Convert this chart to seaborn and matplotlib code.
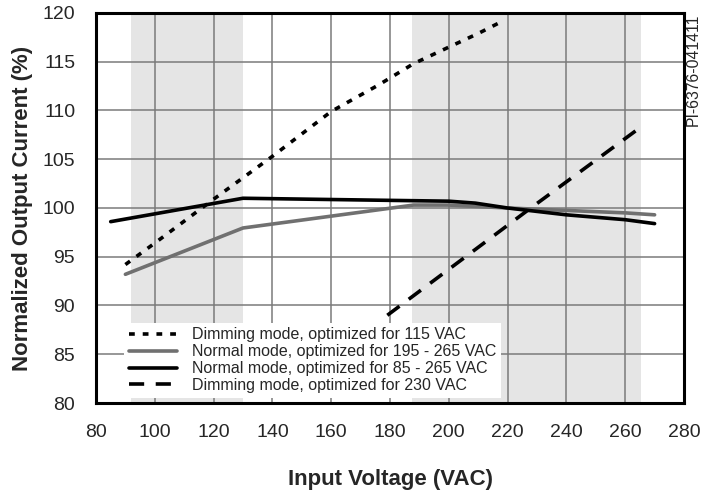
import matplotlib
matplotlib.use("Agg")
import matplotlib.pyplot as plt
import seaborn as sns
import pandas as pd

# ---- data ----
dim115_x = [90, 100, 120, 140, 160, 176, 188, 200, 210, 218.5]
dim115_y = [94.2, 96.4, 100.9, 105.3, 109.9, 112.6, 114.8, 116.5, 117.9, 119.2]

norm195_x = [90, 130, 188, 200, 220, 240, 260, 270]
norm195_y = [93.2, 97.95, 100.3, 100.3, 100.0, 99.75, 99.5, 99.3]

norm85_x = [85, 130, 176, 200, 209, 220, 240, 260, 270]
norm85_y = [98.6, 101.0, 100.8, 100.7, 100.5, 100.0, 99.3, 98.8, 98.4]

dim230_x = [176, 227, 263.5]
dim230_y = [88.3, 99.8, 107.9]

labels = ["Dimming mode, optimized for 115 VAC",
          "Normal mode, optimized for 195 - 265 VAC",
          "Normal mode, optimized for 85 - 265 VAC",
          "Dimming mode, optimized for 230 VAC"]

shade_spans = [(92, 130), (187.5, 265.5)]
x_ticks = [80, 100, 120, 140, 160, 180, 200, 220, 240, 260, 280]
y_ticks = [80, 85, 90, 95, 100, 105, 110, 115, 120]

sns.set_style("white")
plt.rcParams['font.family'] = ['Liberation Sans', 'DejaVu Sans']

fig = plt.figure(figsize=(7.05, 4.94), dpi=100)
ax = fig.add_axes([96/705, 1-403/494, (684-96)/705, (403-13)/494])

for a, b in shade_spans:
    ax.axvspan(a, b, color="#e5e5e5", zorder=0, lw=0)

series = [
    (dim115_x, dim115_y, labels[0], "black", (0, (1.6, 2.2)), False),
    (norm195_x, norm195_y, labels[1], "#707070", "-", False),
    (norm85_x, norm85_y, labels[2], "black", "-", False),
    (dim230_x, dim230_y, labels[3], "black", (0, (4.2, 3.2)), True),
]
for xs, ys, lab, col, ls, rev in series:
    df = pd.DataFrame({"x": xs, "y": ys})
    if rev:
        df = df.iloc[::-1].reset_index(drop=True)
    sns.lineplot(data=df, x="x", y="y", ax=ax, color=col, linestyle=ls,
                 linewidth=2.6, label=lab, zorder=3, sort=False)

ax.set_xlim(80, 280)
ax.set_ylim(80, 120)
ax.set_xticks(x_ticks)
ax.set_yticks(y_ticks)
ax.set_xticklabels([str(t) for t in x_ticks])
ax.set_yticklabels([str(t) for t in y_ticks])
ax.grid(True, color="#7a7a7a", linewidth=1.1, zorder=1)
ax.set_axisbelow(True)
ax.tick_params(length=0, labelsize=14)
ax.tick_params(axis='x', pad=15)
ax.tick_params(axis='y', pad=15)
for s in ax.spines.values():
    s.set_linewidth(2.2)
    s.set_color("black")
    s.set_zorder(4)

ax.set_xlabel("Input Voltage (VAC)", fontsize=16, fontweight="bold", labelpad=20)
ax.set_ylabel("Normalized Output Current (%)", fontsize=16, fontweight="bold", labelpad=7)

leg = ax.legend(loc="lower left", bbox_to_anchor=(0.043, 0.005), frameon=True,
                fontsize=11.5, handlelength=3.0, labelspacing=0.12,
                borderpad=0.3, handletextpad=0.9, borderaxespad=0.2,
                fancybox=False)
leg.get_frame().set_edgecolor("none")
leg.get_frame().set_facecolor("white")
leg.get_frame().set_alpha(1)
leg.set_zorder(5)

fig.text(0.983, 0.972, "PI-6376-041411", rotation=90, ha="center", va="top", fontsize=11.3)

fig.savefig("out.png", dpi=100)
